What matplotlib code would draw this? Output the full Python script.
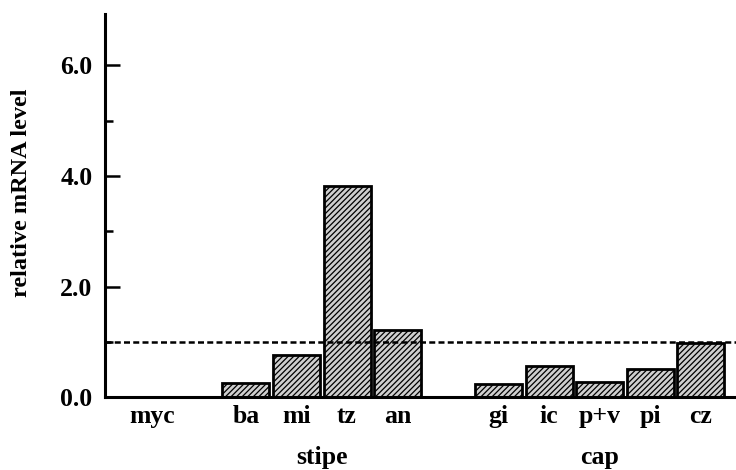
import numpy as np
import matplotlib.pyplot as plt
from matplotlib.ticker import MultipleLocator

plt.rcParams['font.family'] = ['Liberation Serif', 'DejaVu Serif']
plt.rcParams['font.weight'] = 'bold'
plt.rcParams['hatch.linewidth'] = 0.9

# tissues and relative mRNA levels
labels = ['myc', 'ba', 'mi', 'tz', 'an', 'gi', 'ic', 'p+v', 'pi', 'cz']
levels = [0.0, 0.26, 0.76, 3.82, 1.22, 0.24, 0.57, 0.28, 0.50, 0.98]
groups = ['', 'stipe', 'stipe', 'stipe', 'stipe', 'cap', 'cap', 'cap', 'cap', 'cap']
reference = 1.0

# bar slots: one empty slot between groups, myc label sits a bit right
pos = [0.15, 2]
for i in range(2, len(groups)):
    pos.append(pos[-1] + (2 if groups[i] != groups[i - 1] else 1))
pos = np.array(pos)

fig = plt.figure(figsize=(7.36, 4.70), dpi=100)
ax = fig.add_axes([0.1427, 0.1553, 0.8573, 0.8147])

ax.bar(pos, levels, width=0.93, color='#cfcfcf', edgecolor='black',
       linewidth=2, hatch='//////', zorder=2)
ax.axhline(reference, color='black', linestyle=(0, (2.4, 1.3)), linewidth=1.8, zorder=3)

ax.set_xlim(-0.79, 11.7)
ax.set_ylim(0, 6.93)

for side in ['top', 'right']:
    ax.spines[side].set_visible(False)
for side in ['left', 'bottom']:
    ax.spines[side].set_linewidth(2.2)

ax.yaxis.set_major_locator(MultipleLocator(2))
ax.yaxis.set_minor_locator(MultipleLocator(1))
ax.yaxis.set_major_formatter('{x:.1f}')
ax.tick_params(axis='y', which='major', direction='in', length=11, width=1.8,
               labelsize=18.5, pad=9)
ax.tick_params(axis='y', which='minor', direction='in', length=5.5, width=1.8)

ax.set_xticks(pos)
ax.set_xticklabels(labels)
ax.tick_params(axis='x', length=0, labelsize=18.5, pad=6)

ax.set_ylabel('relative mRNA level', fontsize=17.5, fontweight='bold')
ax.yaxis.set_label_coords(-0.116, 0.533)

# group labels under the tick labels
for name in ['stipe', 'cap']:
    gx = pos[[i for i, g in enumerate(groups) if g == name]].mean()
    ax.text(gx, -0.159, name, transform=ax.get_xaxis_transform(),
            ha='center', va='center', fontsize=18.5, fontweight='bold')

fig.savefig('out.png', dpi=100)
